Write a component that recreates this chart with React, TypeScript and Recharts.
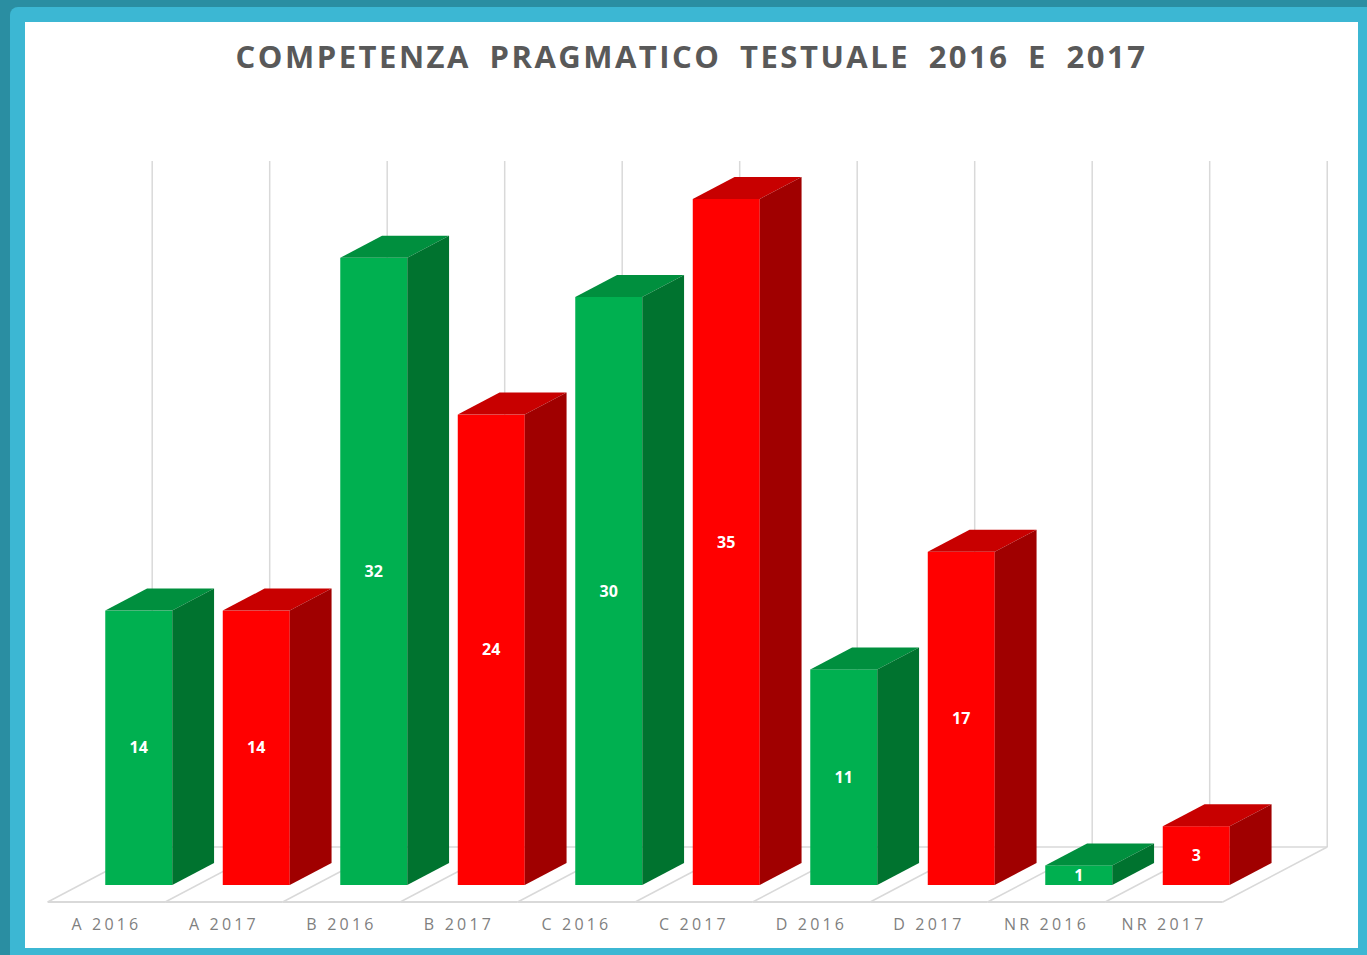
import React from "react";
import { Bar, BarChart, LabelList, XAxis, YAxis } from "recharts";

// 3D-looking column chart: competenza pragmatico testuale, 2016 vs 2017.

const CATEGORIES = [
  "A 2016",
  "A 2017",
  "B 2016",
  "B 2017",
  "C 2016",
  "C 2017",
  "D 2016",
  "D 2017",
  "NR 2016",
  "NR 2017",
];
const YEARS = ["2016", "2017", "2016", "2017", "2016", "2017", "2016", "2017", "2016", "2017"];
const VALUES = [14, 14, 32, 24, 30, 35, 11, 17, 1, 3];
const Y_DOMAIN: [number, number] = [0, 35];

const data = CATEGORIES.map((name, i) => ({ name, year: YEARS[i], value: VALUES[i] }));

const PALETTE: Record<string, { front: string; top: string; side: string }> = {
  "2016": { front: "#00B050", top: "#008F3E", side: "#00732F" },
  "2017": { front: "#FF0000", top: "#C80000", side: "#A00000" },
};

// depth geometry (px)
const GAP = 0.215; // barCategoryGap fraction
const SLOPE = 1.9; // x shift per px of depth
const BAR_DY = 22; // bar depth, vertical
const FRONT = 17; // floor front edge below the bar baseline
const BACK = 38; // back wall above the bar front plane
const GRID = "#d9d9d9";
const FONT = "'Open Sans', 'DejaVu Sans', sans-serif";

function Bar3D(props: any) {
  const { x, y, width, height, payload } = props;
  if (width == null || height == null) return null;
  const c = PALETTE[payload.year];
  const dx = BAR_DY * SLOPE;
  const dy = BAR_DY;
  const top = `${x},${y} ${x + dx},${y - dy} ${x + width + dx},${y - dy} ${x + width},${y}`;
  const side = `${x + width},${y} ${x + width + dx},${y - dy} ${x + width + dx},${y + height - dy} ${x + width},${y + height}`;
  return (
    <g>
      <rect x={x} y={y} width={width} height={height} fill={c.front} />
      <polygon points={top} fill={c.top} />
      <polygon points={side} fill={c.side} />
    </g>
  );
}

// floor + back-wall gridlines, one band per category
function Floor(props: any) {
  const { x, y, width, height, index } = props;
  const band = width / (1 - 2 * GAP);
  const start = x - band * GAP;
  const base = y + height;
  const bounds = index === CATEGORIES.length - 1 ? [start, start + band] : [start];
  return (
    <g>
      {bounds.map((bx) => (
        <g key={bx}>
          <line x1={bx + BACK * SLOPE} y1={y - BACK} x2={bx + BACK * SLOPE} y2={base - BACK} stroke={GRID} strokeWidth={1.5} />
          <line x1={bx - FRONT * SLOPE} y1={base + FRONT} x2={bx + BACK * SLOPE} y2={base - BACK} stroke={GRID} strokeWidth={1.5} />
        </g>
      ))}
      <line x1={start - FRONT * SLOPE} y1={base + FRONT} x2={start + band - FRONT * SLOPE} y2={base + FRONT} stroke={GRID} strokeWidth={2} />
      <line x1={start + BACK * SLOPE} y1={base - BACK} x2={start + band + BACK * SLOPE} y2={base - BACK} stroke={GRID} strokeWidth={1.5} />
    </g>
  );
}

function CategoryTick(props: any) {
  const { x, y, payload } = props;
  return (
    <text
      x={x - FRONT * SLOPE}
      y={y + 45}
      textAnchor="middle"
      fill="#7f7f7f"
      fontSize={16}
      fontFamily={FONT}
      letterSpacing={3.2}
    >
      {payload.value}
    </text>
  );
}

export default function App() {
  return (
    <div style={{ position: "fixed", left: 0, top: 0, width: 1367, height: 955, background: "#2A8EA2" }}>
      <div
        style={{
          position: "absolute",
          left: 10,
          top: 7,
          right: 0,
          bottom: 0,
          background: "#3CB7D3",
          borderTopLeftRadius: 8,
        }}
      />
      <div style={{ position: "absolute", left: 25, top: 22, width: 1333, height: 926, background: "#ffffff" }}>
        <div
          style={{
            position: "absolute",
            left: 0,
            top: 13,
            width: 1333,
            textAlign: "center",
            fontFamily: FONT,
            fontWeight: 700,
            fontSize: 31,
            letterSpacing: 2.5,
            wordSpacing: 8,
            color: "#595959",
          }}
        >
          COMPETENZA PRAGMATICO TESTUALE 2016 E 2017
        </div>
        <BarChart
          width={1333}
          height={926}
          data={data}
          margin={{ top: 177, right: 103, left: 55, bottom: 23 }}
          barCategoryGap={`${GAP * 100}%`}
        >
          <XAxis dataKey="name" axisLine={false} tickLine={false} tickSize={0} tickMargin={0} height={40} interval={0} tick={<CategoryTick />} />
          <YAxis hide domain={Y_DOMAIN} />
          <Bar dataKey="value" isAnimationActive={false} background={(p: any) => <Floor {...p} />} shape={(p: any) => <Bar3D {...p} />}>
            <LabelList dataKey="value" position="center" fill="#ffffff" fontSize={16} fontWeight={700} fontFamily={FONT} />
          </Bar>
        </BarChart>
      </div>
    </div>
  );
}
